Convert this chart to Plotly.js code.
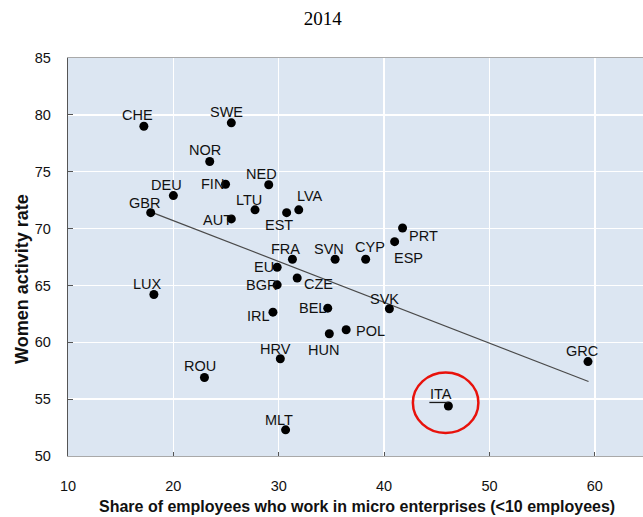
<!DOCTYPE html>
<html>
<head>
<meta charset="utf-8">
<script src="https://cdn.plot.ly/plotly-3.0.1.min.js"></script>
<style>html,body{margin:0;padding:0;background:#fff;}#chart{width:643px;height:517px;}</style>
</head>
<body>
<div id="chart"></div>
<script>
// ---- data ----
const countries = ["CHE","SWE","NOR","FIN","NED","DEU","GBR","LTU","AUT","EST","LVA","PRT","ESP","CYP","SVN","FRA","EU","CZE","BGR","IRL","BEL","SVK","POL","HUN","HRV","ROU","MLT","LUX","GRC","ITA"];
const microShare = [17.2,25.5,23.45,24.95,29.05,20.0,17.85,27.75,25.5,30.75,31.9,41.75,41.0,38.25,35.35,31.3,29.85,31.75,29.85,29.45,34.65,40.5,36.4,34.8,30.15,22.95,30.65,18.15,59.35,46.1];
const womenActivity = [79.0,79.3,75.9,73.9,73.85,72.9,71.4,71.65,70.85,71.4,71.65,70.05,68.85,67.3,67.3,67.3,66.6,65.65,65.05,62.65,63.0,62.95,61.1,60.75,58.55,56.9,52.3,64.2,58.3,54.4];
const trendX = [17.9, 59.4];
const trendY = [71.45, 56.55];
const xTicks = [10,20,30,40,50,60];
const yTicks = [50,55,60,65,70,75,80,85];
const highlighted = "ITA";

// ---- label placement (pixel offsets of label centre from dot: [dx, dy], dy down) ----
const labelOffset = {
  CHE:[-6,-11], SWE:[-5,-11], NOR:[-5,-11], FIN:[-13,0], NED:[-7,-11], DEU:[-7,-11],
  GBR:[-6,-10], LTU:[-6,-10], AUT:[-14,1], EST:[-8,12], LVA:[11,-14], PRT:[21,8],
  ESP:[14,16], CYP:[4,-12], SVN:[-6,-10], FRA:[-7,-10], EU:[-13,0], CZE:[21,6],
  BGR:[-16,0], IRL:[-14,4], BEL:[-15,0], SVK:[-5,-10], POL:[24,1], HUN:[-6,16],
  HRV:[-5,-10], ROU:[-4,-12], MLT:[-7,-10], LUX:[-6,-11], GRC:[-6,-11], ITA:[-7,-12]
};

const labelFont = {family:"Liberation Sans, Arial, sans-serif", size:14.5, color:"#111"};

const annotations = countries.map((c,i)=>({
  x: microShare[i], y: womenActivity[i], xref:"x", yref:"y",
  text: c, showarrow:false, xanchor:"center", yanchor:"middle",
  xshift: labelOffset[c][0], yshift: -labelOffset[c][1],
  font: labelFont
}));

annotations.push({
  xref:"paper", yref:"paper", x:-0.08, y:0.445, xanchor:"center", yanchor:"middle",
  text:"<b>Women activity rate</b>", textangle:-90, showarrow:false,
  font:{family:"Liberation Sans, Arial, sans-serif", size:18, color:"#111"}
});
annotations.push({
  xref:"paper", yref:"paper", x:0.503, y:-0.127, xanchor:"center", yanchor:"middle",
  text:"<b>Share of employees who work in micro enterprises (<10 employees)</b>", showarrow:false,
  font:{family:"Liberation Sans, Arial, sans-serif", size:16, color:"#111"}
});

const hi = countries.indexOf(highlighted);
const shapes = [
  { type:"circle", xref:"x", yref:"y", xsizemode:"pixel", ysizemode:"pixel",
    xanchor: microShare[hi], yanchor: womenActivity[hi],
    x0:-35.5, x1:30, y0:-27, y1:33.5,
    line:{color:"#e8120c", width:2.5} },
  { type:"line", xref:"x", yref:"y", xsizemode:"pixel", ysizemode:"pixel",
    xanchor: microShare[hi], yanchor: womenActivity[hi],
    x0:-19, x1:0, y0:3.5, y1:3.5,
    line:{color:"#1a1a1a", width:1.3} }
];

const traces = [
  { x: trendX, y: trendY, type:"scatter", mode:"lines",
    line:{color:"#4a4a4a", width:1.2}, hoverinfo:"skip" },
  { x: microShare, y: womenActivity, type:"scatter", mode:"markers",
    marker:{color:"#000", size:9}, text: countries }
];

const tickFont = {family:"Liberation Sans, Arial, sans-serif", size:14.5, color:"#111"};

const layout = {
  width:643, height:517,
  margin:{l:68, r:0, t:58, b:61},
  paper_bgcolor:"#ffffff", plot_bgcolor:"#dce6f2",
  showlegend:false,
  title:{text:"2014", x:0.502, xref:"container", xanchor:"center", y:0.965, yref:"container", yanchor:"middle",
         font:{family:"Liberation Serif, Times New Roman, serif", size:19, color:"#000"}},
  xaxis:{range:[10,64.57], tickvals:xTicks, ticktext:xTicks.map(String),
         showgrid:true, gridcolor:"#ffffff", gridwidth:1.5, zeroline:false,
         showline:true, linecolor:"#a9a9a9", linewidth:1.3, mirror:true,
         ticks:"inside", ticklen:4, tickcolor:"#555", tickwidth:1,
         tickfont:tickFont, ticklabelstandoff:16},
  yaxis:{range:[50,85], tickvals:yTicks, ticktext:yTicks.map(String),
         showgrid:true, gridcolor:"#ffffff", gridwidth:1.5, zeroline:false,
         showline:true, linecolor:"#555", linewidth:1.3,
         ticks:"inside", ticklen:5, tickcolor:"#555", tickwidth:1,
         tickfont:tickFont, ticklabelstandoff:13},
  annotations: annotations,
  shapes: shapes
};

Plotly.newPlot("chart", traces, layout, {displayModeBar:false, staticPlot:true});
</script>
</body>
</html>
